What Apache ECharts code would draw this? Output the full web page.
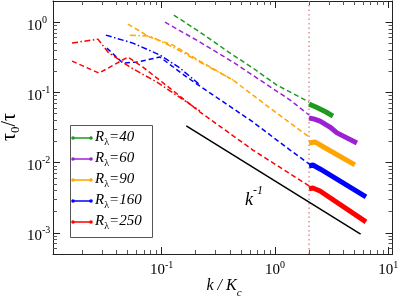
<!DOCTYPE html>
<html><head><meta charset="utf-8">
<script src="https://cdn.jsdelivr.net/npm/echarts@6/dist/echarts.min.js"></script>
<style>html,body{margin:0;padding:0;background:#fff}#c{width:399px;height:301px}</style>
</head><body><div id="c"></div>
<script>
// ---------- data (k/Kc, tau0/tau) ----------
const legendLabels = ['40', '60', '90', '160', '250'];
const colors = ['#1e9a1e', '#9b22d2', '#ffa500', '#0000ff', '#ff0000'];

// R=40
const k40d = [0.128, 0.218, 0.426, 0.639, 1.04, 2.0];
const t40d = [1.26, 0.721, 0.340, 0.222, 0.127, 0.0729];
const k40s = [2.0, 2.3, 2.8, 3.25];
const t40s = [0.068, 0.062, 0.053, 0.046];
// R=60
const k60d = [0.107, 0.218, 0.426, 0.737, 1.36, 2.0];
const t60d = [1.0, 0.520, 0.270, 0.150, 0.0778, 0.0476];
const k60s = [2.0, 2.2, 2.5, 3.06, 3.53, 5.29];
const t60s = [0.0432, 0.0420, 0.0391, 0.0321, 0.0265, 0.0190];
// R=90
const k90d = [0.0504, 0.0788, 0.126, 0.218, 0.426, 0.904, 2.0];
const t90d = [0.937, 0.612, 0.471, 0.279, 0.150, 0.0599, 0.0232];
const k90dd = [0.0525, 0.0788, 0.126, 0.218, 0.426];
const t90dd = [0.653, 0.632, 0.441, 0.270, 0.150];
const k90s = [2.0, 2.25, 2.76, 5.08];
const t90s = [0.0190, 0.0197, 0.0163, 0.0093];
// R=160
const k160d = [0.0329, 0.0455, 0.0605, 0.0966, 0.167, 0.218, 0.639, 1.36, 2.0];
const t160d = [0.427, 0.261, 0.270, 0.318, 0.165, 0.123, 0.0379, 0.0151, 0.00957];
const k160dd = [0.0322, 0.0558, 0.0966, 0.145, 0.218];
const t160dd = [0.653, 0.503, 0.340, 0.222, 0.128];
const k160s = [2.0, 2.16, 2.5, 6.36];
const t160s = [0.00896, 0.00926, 0.00812, 0.00325];
// R=250
const k250d = [0.0162, 0.0280, 0.0504, 0.0684, 0.118, 0.218, 0.639, 2.0];
const t250d = [0.279, 0.188, 0.318, 0.229, 0.115, 0.0525, 0.0151, 0.00466];
const k250dd = [0.0162, 0.0274, 0.0336, 0.0525, 0.0909, 0.218];
const t250dd = [0.503, 0.573, 0.375, 0.229, 0.140, 0.0545];
const k250s = [2.0, 2.16, 2.5, 6.36];
const t250s = [0.00422, 0.00436, 0.00395, 0.00143];
// k^-1 reference line and cut-off
const kRef = [0.165, 5.7];
const tRef = [0.0333, 0.00096];
const kCut = 2;

// axes
const xMin = 0.011, xMax = 10.9, yMin = 5e-4, yMax = 2;
const xMajor = [0.1, 1, 10];
const xMinor = [0.02,0.03,0.04,0.05,0.06,0.07,0.08,0.09,0.2,0.3,0.4,0.5,0.6,0.7,0.8,0.9,2,3,4,5,6,7,8,9];
const yMajor = [0.001, 0.01, 0.1, 1];
const yMinor = [0.0006,0.0007,0.0008,0.0009,0.002,0.003,0.004,0.005,0.006,0.007,0.008,0.009,
  0.02,0.03,0.04,0.05,0.06,0.07,0.08,0.09,0.2,0.3,0.4,0.5,0.6,0.7,0.8,0.9];

// ---------- chart ----------
const serif = 'Liberation Serif';
const zip = (ks, ts) => ks.map((k, i) => [k, ts[i]]);
const DASH = [5, 3], DASHDOT = [6, 2.5, 1.5, 2.5];
function ln(ks, ts, color, type, width, z) {
  return { type: 'line', data: zip(ks, ts), xAxisIndex: 0, yAxisIndex: 0, symbol: 'none',
    silent: true, z: z || 2, lineStyle: { color: color, width: width, type: type, cap: 'butt' } };
}
const labRich = {
  b: { fontFamily: serif, fontSize: 15, lineHeight: 22, verticalAlign: 'bottom', color: '#000' },
  s: { fontFamily: serif, fontSize: 10, verticalAlign: 'top', padding: [4, 0, 0, 0], color: '#000' }
};
const expFmt = v => '{b|10}{s|' + Math.round(Math.log10(v)) + '}';
const axCol = '#222';
function mkAxis(kind, pos, major, withLine, withLabel) {
  const isX = kind === 'x';
  const a = {
    type: 'log', min: isX ? xMin : yMin, max: isX ? xMax : yMax, position: pos,
    splitLine: { show: false }, minorTick: { show: false },
    axisLine: { show: withLine, lineStyle: { color: axCol, width: 1 } },
    axisTick: { show: true, inside: true, length: major ? 7 : 4,
      customValues: major ? (isX ? xMajor : yMajor) : (isX ? xMinor : yMinor),
      lineStyle: { color: major ? axCol : '#555', width: 1 } },
    axisLabel: { show: false }
  };
  if (withLabel) {
    a.axisLabel = { show: true, customValues: isX ? xMajor : yMajor, formatter: expFmt, rich: labRich,
      margin: isX ? 2 : 26 };
    if (!isX) a.axisLabel.align = 'left';
  }
  return a;
}

const series = [];
const dashK = [k40d, k60d, k90d, k160d, k250d], dashT = [t40d, t60d, t90d, t160d, t250d];
const ddK = [null, null, k90dd, k160dd, k250dd], ddT = [null, null, t90dd, t160dd, t250dd];
const solK = [k40s, k60s, k90s, k160s, k250s], solT = [t40s, t60s, t90s, t160s, t250s];
series.push({ type: 'line', data: [[kCut, yMin], [kCut, yMax]], symbol: 'none', silent: true, z: 1,
  lineStyle: { color: '#d25a5a', width: 1, type: [1.5, 3] } });
series.push(ln(kRef, tRef, '#000', 'solid', 1.5, 2));
for (let i = 0; i < 5; i++) {
  series.push(ln(dashK[i], dashT[i], colors[i], DASH, 1.5));
  if (ddK[i]) series.push(ln(ddK[i], ddT[i], colors[i], DASHDOT, 1.5));
  series.push(ln(solK[i], solT[i], colors[i], 'solid', 5, 3));
}

// legend & text graphics
const graphic = [];
graphic.push({ type: 'rect', shape: { x: 70.5, y: 125.5, width: 82, height: 112 },
  style: { fill: 'rgba(0,0,0,0)', stroke: '#555', lineWidth: 1 }, z: 10 });
legendLabels.forEach((lab, i) => {
  const cy = 137 + 21 * i;
  graphic.push({ type: 'line', shape: { x1: 73, y1: cy + 1, x2: 91, y2: cy + 1 },
    style: { stroke: colors[i], lineWidth: 1.5 }, z: 10 });
  [73, 91].forEach(x => graphic.push({ type: 'circle', shape: { cx: x, cy: cy + 1, r: 1.8 },
    style: { fill: colors[i] }, z: 10 }));
  graphic.push({ type: 'text', x: 95, y: cy - 7.5, z: 10,
    style: { text: '{r|R}{s|λ}{r|=' + lab + '}', align: 'left', verticalAlign: 'top',
      rich: { r: { fontFamily: serif, fontStyle: 'italic', fontSize: 15, verticalAlign: 'top', lineHeight: 18, fill: '#000' },
              s: { fontFamily: serif, fontSize: 10, verticalAlign: 'bottom', fill: '#000' } } } });
});
graphic.push({ type: 'text', x: 245, y: 185, z: 10,
  style: { text: '{a|k}{s|-1}', align: 'left', verticalAlign: 'top',
    rich: { a: { fontFamily: serif, fontStyle: 'italic', fontSize: 18, lineHeight: 24, verticalAlign: 'bottom', fill: '#000' },
            s: { fontFamily: serif, fontStyle: 'italic', fontSize: 12, verticalAlign: 'top', fill: '#000' } } } });
graphic.push({ type: 'text', x: 224, y: 278, z: 10,
  style: { text: '{a|k / K}{s|c}', align: 'center', verticalAlign: 'top',
    rich: { a: { fontFamily: serif, fontStyle: 'italic', fontSize: 16, verticalAlign: 'top', fill: '#000' },
            s: { fontFamily: serif, fontStyle: 'italic', fontSize: 11, lineHeight: 21, verticalAlign: 'bottom', fill: '#000' } } } });
// y-axis title, rotated to read bottom-to-top
graphic.push({ type: 'text', x: 11, y: 127, rotation: Math.PI / 2, z: 10,
  style: { text: '{a|τ}{s|0}{a|/τ}', align: 'center', verticalAlign: 'middle',
    rich: { a: { fontFamily: serif, fontSize: 20, lineHeight: 23, verticalAlign: 'top', fill: '#000' },
            s: { fontFamily: serif, fontSize: 13, verticalAlign: 'bottom', fill: '#000' } } } });

const chart = echarts.init(document.getElementById('c'), null, { renderer: 'canvas' });
chart.setOption({
  animation: false,
  backgroundColor: '#fff',
  grid: { left: 53, right: 6.5, top: 1, bottom: 47, containLabel: false, outerBoundsMode: 'none' },
  xAxis: [mkAxis('x', 'bottom', true, true, true), mkAxis('x', 'bottom', false, false, false),
          mkAxis('x', 'top', true, true, false), mkAxis('x', 'top', false, false, false)],
  yAxis: [mkAxis('y', 'left', true, true, true), mkAxis('y', 'left', false, false, false),
          mkAxis('y', 'right', true, true, false), mkAxis('y', 'right', false, false, false)],
  series: series,
  graphic: graphic
});
</script></body></html>
